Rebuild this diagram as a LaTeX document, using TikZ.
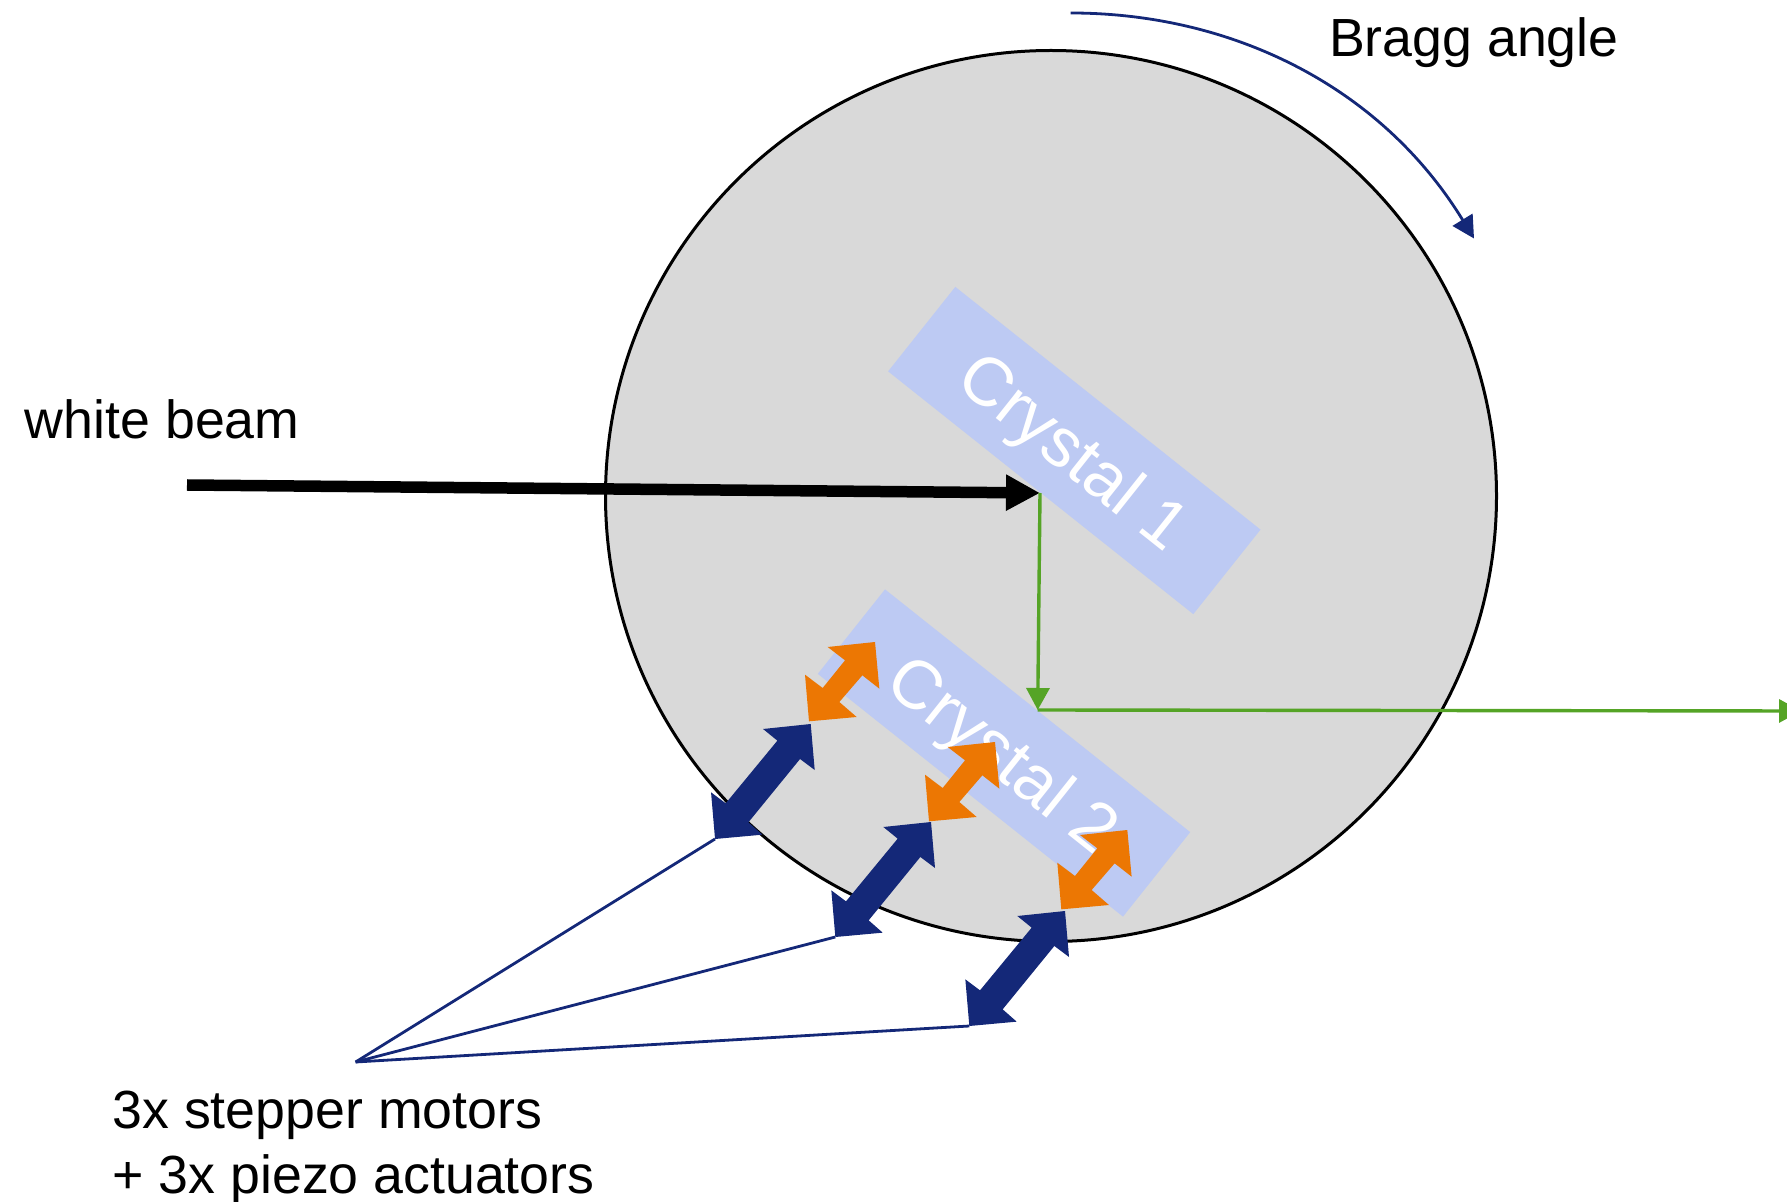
\documentclass[tikz,border=0pt]{standalone}
\usepackage{fontspec}
\setmainfont{Liberation Sans}
\usetikzlibrary{arrows.meta}
\definecolor{navyc}{HTML}{142878}
\definecolor{orangec}{HTML}{EC7703}
\definecolor{greenc}{HTML}{55A426}
\definecolor{crystalc}{HTML}{BDCAF3}
\definecolor{discc}{HTML}{D9D9D9}
\tikzset{
  lbl/.style={inner sep=0pt,outer sep=0pt,font=\fontsize{26.85}{32.4}\selectfont,text=black},
  disc/.style={circle,draw=black,line width=1.5pt,fill=discc,minimum size=445.5pt,inner sep=0pt},
  crystal/.style={rectangle,fill=crystalc,rotate=-38.5,minimum width=195pt,minimum height=54pt,inner sep=0pt,text=white,text height=30.4pt,text depth=6.4pt,font=\fontsize{34.4}{40}\selectfont},
  beam/.style={line width=5.75pt,black,-{Triangle[length=17pt,width=17pt]}},
  ray/.style={line width=1.7pt,greenc,-{Triangle[length=11pt,width=11.5pt]}},
  leader/.style={line width=1.4pt,navyc},
  sweep/.style={line width=1.4pt,navyc,-{Triangle[length=11pt,width=11.5pt]}},
}
\newcommand{\navyact}[2]{%
  \fill[navyc,shift={(#1)},scale=1/3] (0,0) -- (-143,15) -- (-100,50) -- (-255,238) -- (-299,205)
    -- (-287,345) -- (-145,332) -- (-187,295) -- (-32,105) -- (12,138) -- cycle;
  \coordinate (#2) at ([shift={(-95.7,115)}]#1);
}
\newcommand{\orangeact}[1]{%
  \fill[orangec,shift={(#1)},scale=1/3] (0,0) -- (-142,15) -- (-90,55) -- (-157,138) -- (-210,98)
    -- (-198,238) -- (-55,225) -- (-107,180) -- (-38,100) -- (13,140) -- cycle;
}
\begin{document}
\begin{tikzpicture}[x=0.5pt,y=-0.5pt]
\useasboundingbox (0,0) rectangle (1787,1202);
\clip (0,0) rectangle (1787,1202);
\node[disc] (disc) at (1051,496) {};
\node[crystal] (c1) at (1074.3,450.5) {Crystal 1};
\node[crystal] (c2) at (1004,753) {Crystal 2};

\coordinate (beamstart) at (187,485);
\coordinate (hit) at (1040,493);
\coordinate (hit2) at (1037.7,710);
\coordinate (out) at (1801,711);
\draw[beam] (beamstart) -- (hit);
\draw[ray] (hit) -- (hit2);
\draw[ray] (hit2) -- (out);

\coordinate (sw1) at (1070.7,13);
\coordinate (sw2) at (1474,238.5);
\draw[sweep] (sw1) .. controls (1230,13) and (1380,85) .. (sw2);

\navyact{810.7,724}{m1}
\navyact{931,822}{m2}
\navyact{1065,911}{m3}
\orangeact{875,642}
\orangeact{995,742}
\orangeact{1127.3,830}

\coordinate (apex) at (355.6,1062);
\draw[leader] (apex) -- (m1);
\draw[leader] (apex) -- (m2);
\draw[leader] (apex) -- (m3);

\node[lbl,anchor=base west] (bragg) at (1329,57) {Bragg angle};
\node[lbl,anchor=base west] (white) at (25,439) {white beam};
\node[lbl,anchor=north west,align=left] (motors) at (112.5,1091) {3x stepper motors\\+ 3x piezo actuators};
\end{tikzpicture}
\end{document}
